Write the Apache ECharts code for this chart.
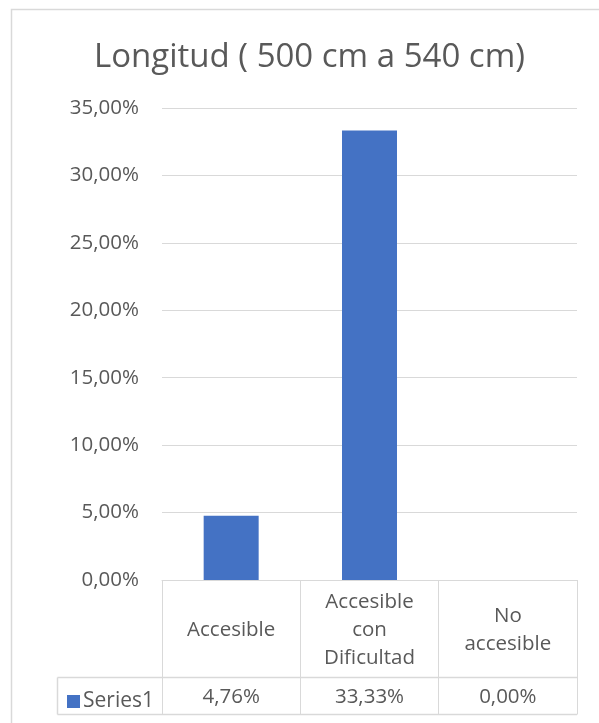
<!DOCTYPE html>
<html>
<head>
<meta charset="utf-8">
<script src="https://cdn.jsdelivr.net/npm/echarts@6/dist/echarts.min.js"></script>
<style>
  html, body { margin: 0; padding: 0; background: #fff; }
  #chart { width: 599px; height: 723px; }
</style>
</head>
<body>
<div id="chart"></div>
<script>
// Chart content
const titleText = 'Longitud ( 500 cm a 540 cm)';
const categories = ['Accesible', 'Accesible\ncon\nDificultad', 'No\naccesible'];
const seriesName = 'Series1';
const seriesValues = [4.76, 33.33, 0.00];
const yTicks = [0, 5, 10, 15, 20, 25, 30, 35];

const FONT = 'Open Sans';
const TEXT = '#595959';
const LINE = '#d9d9d9';
const BAR = '#4472C4';

// percent formatter with decimal comma
const pct = v => v.toFixed(2).replace('.', ',') + '%';

// Plot geometry
const G = { left: 162, right: 22, top: 108, bottom: 143 };
const W = 599, H = 723;
const plotRight = W - G.right;
const axisY = H - G.bottom;
const rowSplitY = 677.5;
const tableBottomY = 714.5;
const keyLeftX = 57.5;

const chart = echarts.init(document.getElementById('chart'), null, { renderer: 'canvas' });

chart.setOption({
  animation: false,
  backgroundColor: '#fff',
  title: {
    text: titleText,
    left: 89,
    top: 36,
    textStyle: { fontFamily: FONT, fontSize: 33, fontWeight: 'normal', color: TEXT }
  },
  legend: {
    left: 62,
    top: 686,
    icon: 'rect',
    itemWidth: 13,
    itemHeight: 13,
    itemGap: 6,
    data: [seriesName],
    textStyle: { fontFamily: FONT, fontSize: 21, color: TEXT, padding: [0, 0, 0, -2] }
  },
  grid: G,
  xAxis: [
    {
      type: 'category',
      data: categories,
      boundaryGap: true,
      axisLine: { show: true, lineStyle: { color: LINE, width: 1 } },
      axisTick: { show: true, interval: 0, length: tableBottomY - axisY, lineStyle: { color: LINE } },
      axisLabel: {
        interval: 0,
        margin: 50,
        verticalAlign: 'middle',
        fontFamily: FONT, fontSize: 20.5, color: TEXT, lineHeight: 28
      }
    },
    {
      // value row of the data table
      type: 'category',
      data: seriesValues.map(pct),
      position: 'bottom',
      boundaryGap: true,
      axisLine: { show: false },
      axisTick: { show: false },
      axisLabel: {
        interval: 0,
        margin: 117,
        verticalAlign: 'middle',
        fontFamily: FONT, fontSize: 20.5, color: TEXT
      }
    }
  ],
  yAxis: {
    type: 'value',
    min: 0,
    max: 35,
    interval: 5,
    axisLine: { show: false },
    axisTick: { show: false },
    splitLine: { lineStyle: { color: LINE, width: 1 } },
    axisLabel: {
      margin: 23,
      fontFamily: FONT, fontSize: 20.5, color: TEXT,
      formatter: v => pct(v)
    }
  },
  series: [{
    name: seriesName,
    type: 'bar',
    xAxisIndex: 0,
    data: seriesValues,
    barWidth: 55,
    itemStyle: { color: BAR }
  }],
  graphic: [
    // chart area frame (left and top edges)
    { type: 'polyline', silent: true,
      shape: { points: [[11.5, H + 5], [11.5, 9.5], [W + 5, 9.5]] },
      style: { stroke: LINE, lineWidth: 1.5, fill: null } },
    // data table horizontal rules
    { type: 'line', silent: true,
      shape: { x1: keyLeftX, y1: rowSplitY, x2: plotRight, y2: rowSplitY },
      style: { stroke: LINE, lineWidth: 1.5 } },
    { type: 'line', silent: true,
      shape: { x1: keyLeftX, y1: tableBottomY, x2: plotRight, y2: tableBottomY },
      style: { stroke: LINE, lineWidth: 1.5 } },
    // left edge of the key cell
    { type: 'line', silent: true,
      shape: { x1: keyLeftX, y1: rowSplitY, x2: keyLeftX, y2: tableBottomY },
      style: { stroke: LINE, lineWidth: 1.5 } }
  ]
});
</script>
</body>
</html>
